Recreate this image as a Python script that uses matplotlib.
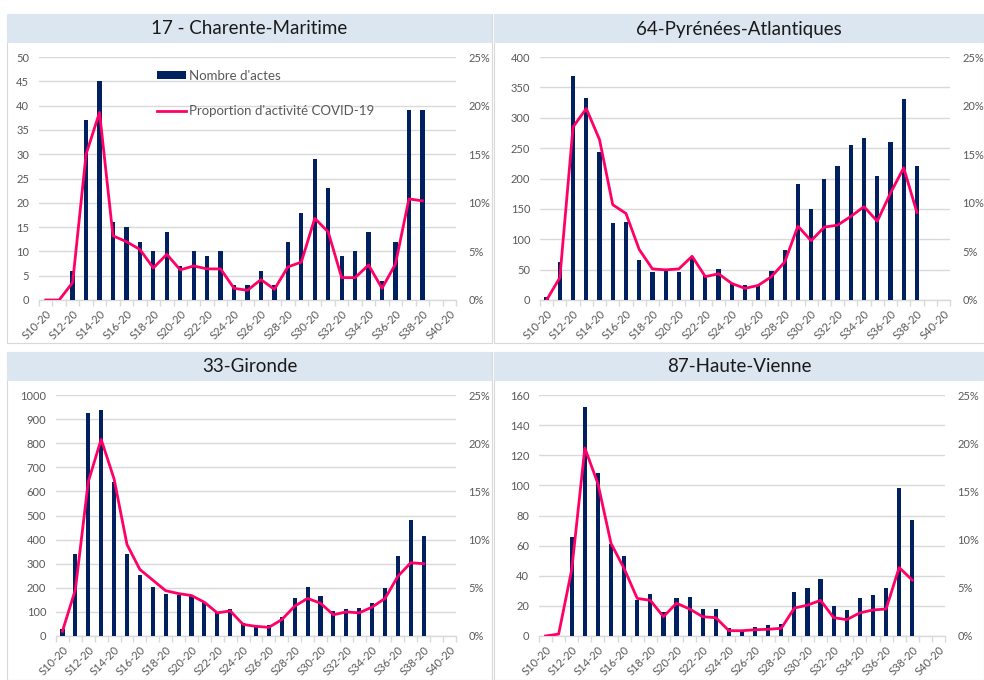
import matplotlib
matplotlib.use("Agg")
import matplotlib.pyplot as plt
from matplotlib.patches import Rectangle, Patch
from matplotlib.lines import Line2D
from matplotlib.ticker import FuncFormatter

plt.rcParams['font.family'] = ['Lato', 'DejaVu Sans']

weeks = [f"S{w}-20" for w in range(10, 41)]

titles = ["17 - Charente-Maritime", "64-Pyrénées-Atlantiques", "33-Gironde", "87-Haute-Vienne"]

actes_17 = [0, 0, 6, 37, 45, 16, 15, 12, 10, 14, 7, 10, 9, 10, 3, 3, 6, 3, 12, 18, 29, 23, 9, 10, 14, 4, 12, 39, 39]
prop_17 = [0, 0, 1.8, 15.0, 19.3, 6.6, 6.0, 5.2, 3.3, 4.7, 3.1, 3.5, 3.2, 3.2, 1.2, 1.0, 2.1, 1.1, 3.4, 3.9, 8.4, 7.0, 2.3, 2.3, 3.6, 1.2, 3.7, 10.4, 10.2]

actes_64 = [5, 63, 368, 333, 243, 126, 129, 66, 46, 50, 46, 70, 40, 51, 28, 25, 25, 47, 83, 191, 149, 200, 220, 255, 267, 204, 260, 331, 220]
prop_64 = [0, 2.3, 17.8, 19.7, 16.5, 9.8, 8.9, 5.2, 3.2, 3.1, 3.2, 4.5, 2.4, 2.7, 1.7, 1.2, 1.5, 2.4, 3.9, 7.6, 6.1, 7.5, 7.7, 8.6, 9.6, 8.1, 11.0, 13.6, 9.0]

actes_33 = [30, 340, 925, 938, 640, 340, 252, 205, 175, 172, 165, 140, 100, 110, 55, 45, 45, 77, 158, 204, 166, 103, 111, 115, 137, 200, 332, 480, 417]
prop_33 = [0.5, 4.8, 16.0, 20.4, 16.3, 9.5, 6.9, 5.8, 4.7, 4.4, 4.2, 3.5, 2.4, 2.6, 1.2, 1.0, 0.9, 1.7, 3.1, 3.9, 3.4, 2.2, 2.5, 2.4, 3.0, 3.9, 6.2, 7.6, 7.5]

actes_87 = [0, 0, 66, 152, 108, 61, 53, 24, 28, 16, 25, 26, 18, 18, 5, 4, 6, 7, 8, 29, 32, 38, 20, 17, 25, 27, 32, 98, 77]
prop_87 = [0, 0.2, 6.9, 19.5, 15.8, 9.6, 7.0, 3.9, 3.7, 2.0, 3.4, 2.8, 2.0, 1.9, 0.55, 0.55, 0.65, 0.7, 0.8, 2.9, 3.2, 3.7, 1.9, 1.7, 2.4, 2.7, 2.8, 7.1, 5.8]

left_max = [50, 400, 1000, 160]
left_step = [5, 50, 100, 20]

actes = [actes_17, actes_64, actes_33, actes_87]
props = [prop_17, prop_64, prop_33, prop_87]

BAR = "#002060"
LINE = "#FF0066"
GRID = "#D9D9D9"
TXT = "#595959"
TITLEBG = "#DCE6F1"

W, H = 984, 680
fig = plt.figure(figsize=(9.84, 6.8), dpi=100)

def fx(px):
    return px / W

def fy(py):
    return 1 - py / H

# panel frames: (x0, x1, y0, y1) in pixels
panels = [(7, 492, 14, 343), (494, 984, 14, 343), (7, 492, 352, 680), (494, 984, 352, 680)]
axes_px = [(39, 456, 57, 300), (540, 950, 57, 300), (56, 456, 395, 636), (539, 945, 395, 636)]

for i in range(4):
    x0, x1, y0, y1 = panels[i]
    fig.patches.append(Rectangle((fx(x0), fy(y1)), fx(x1 - x0), (y1 - y0) / H,
                                 transform=fig.transFigure, facecolor="white",
                                 edgecolor="#D9D9D9", linewidth=0.8, zorder=0))
    fig.patches.append(Rectangle((fx(x0), fy(y0 + 29)), fx(x1 - x0), 29 / H,
                                 transform=fig.transFigure, facecolor=TITLEBG,
                                 edgecolor="none", zorder=1))
    fig.text(fx((x0 + x1) / 2), fy(y0 + 15), titles[i], ha="center", va="center",
             fontsize=13.5, color="#1a1a1a", zorder=2)

    ax0, ax1, ay0, ay1 = axes_px[i]
    ax = fig.add_axes([fx(ax0), fy(ay1), fx(ax1 - ax0), (ay1 - ay0) / H])
    ax.set_zorder(3)
    ax.patch.set_alpha(0)
    n = len(actes[i])
    ax.bar(range(n), actes[i], width=0.32, color=BAR, zorder=3)
    ax.set_xlim(-0.5, len(weeks) - 0.5)
    ax.set_ylim(0, left_max[i])
    ax.set_yticks(range(0, left_max[i] + 1, left_step[i]))
    ax.yaxis.grid(True, color=GRID, linewidth=1)
    ax.set_axisbelow(True)
    for s in ["top", "right", "left"]:
        ax.spines[s].set_visible(False)
    ax.spines["bottom"].set_color(GRID)
    ax.spines["bottom"].set_linewidth(1)
    ax.tick_params(axis="y", length=0, labelsize=8, labelcolor=TXT, pad=7)
    ax.set_xticks(range(0, len(weeks), 2))
    ax.set_xticklabels(weeks[::2], rotation=45, ha="right", rotation_mode="anchor")
    ax.tick_params(axis="x", which="major", length=0, labelsize=8, labelcolor=TXT, pad=6)
    ax.set_xticks([k - 0.5 for k in range(len(weeks) + 1)], minor=True)
    ax.tick_params(axis="x", which="minor", length=4, color=GRID, width=1)

    ax2 = ax.twinx()
    ax2.plot(range(n), props[i], color=LINE, linewidth=2.0, zorder=4, solid_joinstyle="round")
    ax2.set_ylim(0, 25)
    ax2.set_yticks(range(0, 26, 5))
    ax2.yaxis.set_major_formatter(FuncFormatter(lambda v, p: f"{int(v)}%"))
    ax2.tick_params(axis="y", length=0, labelsize=8, labelcolor=TXT, pad=9)
    for s in ["top", "right", "left", "bottom"]:
        ax2.spines[s].set_visible(False)

    if i == 0:
        handles = [Patch(facecolor=BAR, edgecolor="none"),
                   Line2D([0], [0], color=LINE, linewidth=2.0)]
        leg = ax2.legend(handles, ["Nombre d'actes", "Proportion d'activité COVID-19"],
                         loc="upper left", bbox_to_anchor=(0.27, 0.97), frameon=False,
                         fontsize=9.5, labelspacing=1.8, handlelength=2.2, handleheight=0.6,
                         handletextpad=0.2, borderaxespad=0)
        for t in leg.get_texts():
            t.set_color(TXT)

fig.savefig("out.png", dpi=100, facecolor="white")
